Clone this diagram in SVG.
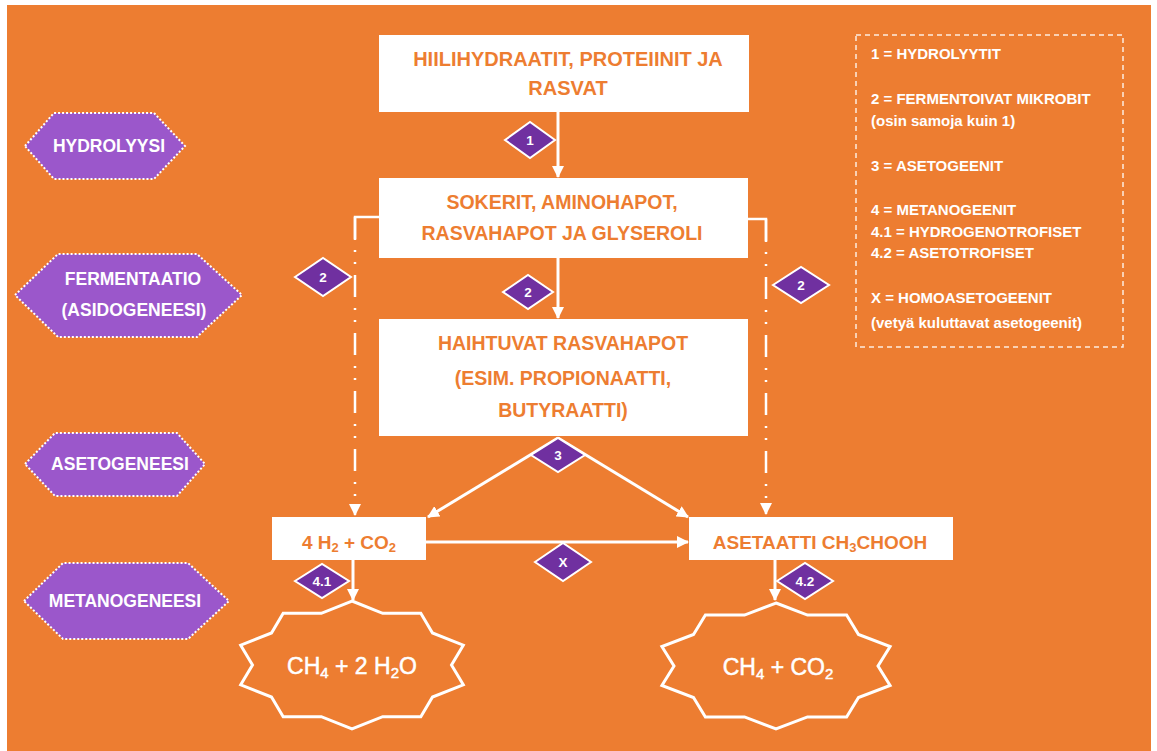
<svg xmlns="http://www.w3.org/2000/svg" width="1157" height="751" viewBox="0 0 1157 751">
<defs>
<style>
.bg{fill:#ED7D31}
.box{fill:#FFFFFF}
.bt{font-family:"Liberation Sans",Arial,sans-serif;font-weight:bold;fill:#ED7D31;text-anchor:middle}
.hex{fill:#9B57CB;stroke:#FFFFFF;stroke-width:2;stroke-dasharray:2 2}
.ht{font-family:"Liberation Sans",Arial,sans-serif;font-weight:bold;font-size:17.5px;fill:#FFFFFF;text-anchor:middle}
.dia{fill:#7030A0;stroke:#FFFFFF;stroke-width:2}
.dt{font-family:"Liberation Sans",Arial,sans-serif;font-weight:bold;font-size:13.5px;fill:#FFFFFF;text-anchor:middle}
.con{fill:none;stroke:#FFFFFF;stroke-width:3}
.dd{fill:none;stroke:#FFFFFF;stroke-width:2.5;stroke-dasharray:22 11 2 10 2 11}
.star{fill:none;stroke:#FFFFFF;stroke-width:3;stroke-linejoin:miter}
.st{font-family:"Liberation Sans",Arial,sans-serif;font-size:23px;fill:#FFFFFF;stroke:#FFFFFF;stroke-width:0.5;text-anchor:middle}
.leg{fill:none;stroke:#FFFFFF;stroke-opacity:0.85;stroke-width:1.5;stroke-dasharray:5 4}
.lt{font-family:"Liberation Sans",Arial,sans-serif;font-weight:bold;font-size:15px;fill:#FFFFFF}
</style>
<marker id="ah" markerUnits="userSpaceOnUse" markerWidth="12" markerHeight="12" viewBox="0 0 12 12" refX="11" refY="6" orient="auto">
<path d="M0,0 L12,6 L0,12 Z" fill="#FFFFFF"/>
</marker>
</defs>
<rect class="bg" x="7" y="5" width="1144" height="746"/>

<g id="connectors">
<path class="con" d="M558,112 V177" marker-end="url(#ah)"/>
<path class="con" d="M558,258 V318" marker-end="url(#ah)"/>
<path class="con" d="M558,438 L428,517" marker-end="url(#ah)"/>
<path class="con" d="M558,438 L688,517" marker-end="url(#ah)"/>
<path class="con" d="M426,542 H688" marker-end="url(#ah)"/>
<path class="con" d="M353,560 V600" marker-end="url(#ah)"/>
<path class="con" d="M775,560 V600" marker-end="url(#ah)"/>
<path class="con" style="stroke-width:2.5" d="M379,217 H355 V240"/>
<path class="dd" d="M355,217 V515" marker-end="url(#ah)"/>
<path class="con" style="stroke-width:2.5" d="M748,219 H766 V242"/>
<path class="dd" d="M766,219 V514" marker-end="url(#ah)"/>
</g>

<g id="n-input">
<rect class="box" x="379" y="35" width="370" height="77"/>
<text class="bt" font-size="20" x="568" y="66">HIILIHYDRAATIT, PROTEIINIT JA</text>
<text class="bt" font-size="20" x="568" y="95">RASVAT</text>
</g>
<g id="n-sokerit">
<rect class="box" x="379" y="178" width="369" height="80"/>
<text class="bt" font-size="19.5" x="562" y="209">SOKERIT, AMINOHAPOT,</text>
<text class="bt" font-size="19.5" x="562" y="240">RASVAHAPOT JA GLYSEROLI</text>
</g>
<g id="n-haihtuvat">
<rect class="box" x="379" y="319" width="369" height="117"/>
<text class="bt" font-size="19.5" x="563" y="350">HAIHTUVAT RASVAHAPOT</text>
<text class="bt" font-size="19.5" x="563" y="385">(ESIM. PROPIONAATTI,</text>
<text class="bt" font-size="19.5" x="563" y="417">BUTYRAATTI)</text>
</g>
<g id="n-h2co2">
<rect class="box" x="272" y="517" width="154" height="43"/>
<text class="bt" font-size="19" x="349" y="549">4 H<tspan font-size="13" dy="3">2</tspan><tspan dy="-3"> + CO</tspan><tspan font-size="13" dy="3">2</tspan></text>
</g>
<g id="n-asetaatti">
<rect class="box" x="689" y="517" width="264" height="43"/>
<text class="bt" font-size="19" x="820" y="549">ASETAATTI CH<tspan font-size="13" dy="3">3</tspan><tspan dy="-3">CHOOH</tspan></text>
</g>

<g id="n-ch4-h2o">
<path class="star" d="M352,601 L382.7,613.3 L420.8,613.2 L432.5,633 L463.3,645.2 L451.5,665 L463.3,684.8 L432.5,697 L420.8,716.8 L382.7,716.7 L352,729 L321.3,716.7 L283.2,716.8 L271.5,697 L240.7,684.8 L252.5,665 L240.7,645.2 L271.5,633 L283.2,613.2 L321.3,613.3 Z"/>
<text class="st" x="352" y="674">CH<tspan font-size="15" dy="4">4</tspan><tspan dy="-4"> + 2 H</tspan><tspan font-size="15" dy="4">2</tspan><tspan dy="-4">O</tspan></text>
</g>
<g id="n-ch4-co2">
<path class="star" d="M776,603 L807.5,615.1 L846.6,615 L858.5,634.5 L890.1,646.5 L878,666 L890.1,685.5 L858.5,697.5 L846.6,717 L807.5,716.9 L776,729 L744.5,716.9 L705.4,717 L693.5,697.5 L661.9,685.5 L674,666 L661.9,646.5 L693.5,634.5 L705.4,615 L744.5,615.1 Z"/>
<text class="st" x="778" y="675">CH<tspan font-size="15" dy="4">4</tspan><tspan dy="-4"> + CO</tspan><tspan font-size="15" dy="4">2</tspan></text>
</g>

<g id="stage-hydrolyysi">
<polygon class="hex" points="25,146 54,113 154,113 185,146 154,179 54,179"/>
<text class="ht" x="109" y="152">HYDROLYYSI</text>
</g>
<g id="stage-fermentaatio">
<polygon class="hex" points="15,295 58,254 197,254 242,295 197,337 58,337"/>
<text class="ht" x="133" y="285">FERMENTAATIO</text>
<text class="ht" x="134" y="316">(ASIDOGENEESI)</text>
</g>
<g id="stage-asetogeneesi">
<polygon class="hex" points="25,464 55,433 177,433 205,464 177,496 55,496"/>
<text class="ht" x="120" y="470">ASETOGENEESI</text>
</g>
<g id="stage-metanogeneesi">
<polygon class="hex" points="24,601 63,563 188,563 229,601 188,639 63,639"/>
<text class="ht" x="125" y="607">METANOGENEESI</text>
</g>

<g id="d-1">
<polygon class="dia" points="505,140 530,122 555,140 530,158"/>
<text class="dt" x="530" y="145">1</text>
</g>
<g id="d-2-mid">
<polygon class="dia" points="503,292 528,275 553,292 528,309"/>
<text class="dt" x="528" y="297">2</text>
</g>
<g id="d-2-left">
<polygon class="dia" points="295,277 323,258 351,277 323,296"/>
<text class="dt" x="323" y="282">2</text>
</g>
<g id="d-2-right">
<polygon class="dia" points="773,285 801,267 829,285 801,303"/>
<text class="dt" x="801" y="290">2</text>
</g>
<g id="d-3">
<polygon class="dia" points="531,455 558,438 585,455 558,472"/>
<text class="dt" x="558" y="460">3</text>
</g>
<g id="d-x">
<polygon class="dia" points="535,562 563,543 591,562 563,581"/>
<text class="dt" x="563" y="567">X</text>
</g>
<g id="d-41">
<polygon class="dia" points="295,581 322,564 349,581 322,598"/>
<text class="dt" x="322" y="586">4.1</text>
</g>
<g id="d-42">
<polygon class="dia" points="777,581 805,563 833,581 805,599"/>
<text class="dt" x="805" y="586">4.2</text>
</g>

<g id="legend">
<rect class="leg" x="856" y="35" width="267" height="312"/>
<text class="lt" x="871" y="59">1 = HYDROLYYTIT</text>
<text class="lt" x="871" y="104">2 = FERMENTOIVAT MIKROBIT</text>
<text class="lt" x="871" y="126">(osin samoja kuin 1)</text>
<text class="lt" x="871" y="171">3 = ASETOGEENIT</text>
<text class="lt" x="871" y="215">4 = METANOGEENIT</text>
<text class="lt" x="871" y="237">4.1 = HYDROGENOTROFISET</text>
<text class="lt" x="871" y="258">4.2 = ASETOTROFISET</text>
<text class="lt" x="871" y="303">X = HOMOASETOGEENIT</text>
<text class="lt" x="871" y="328">(vetyä kuluttavat asetogeenit)</text>
</g>
</svg>
